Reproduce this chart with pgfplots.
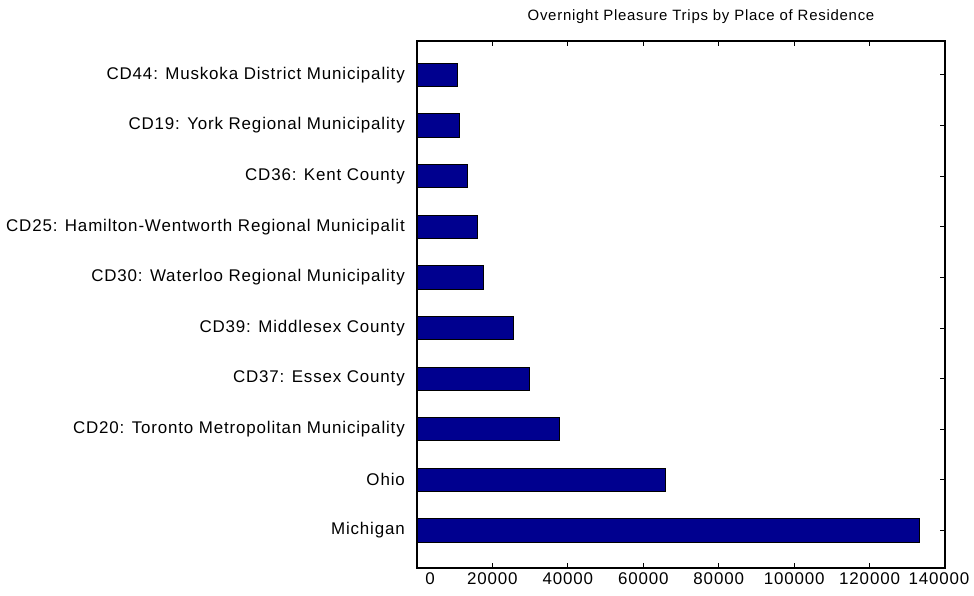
\documentclass[border=0pt]{standalone}
\usepackage{pgfplots}
\pgfplotsset{compat=1.18}
\usepackage{fontspec}
\setmainfont{Liberation Sans}[LetterSpace=5]
\definecolor{barblue}{rgb}{0,0,0.5625}
\begin{document}
\begin{tikzpicture}[x=1bp,y=1bp]
\useasboundingbox (0,0) rectangle (974,596);
\begin{axis}[
  at={(417bp,28bp)}, anchor=south west,
  scale only axis, width=528bp, height=527bp,
  xmin=0, xmax=140000, ymin=0.26, ymax=10.67,
  scaled x ticks=false,
  xtick={0,20000,40000,60000,80000,100000,120000,140000},
  xticklabels={\hspace*{26bp}0, 20000, 40000, 60000, 80000, 100000, 120000, 140000\hspace*{12bp}},
  xticklabel style={inner sep=0pt, yshift=-4bp},
  ytick={1,2,3,4,5,6,7,8,9,10},
  yticklabels={Michigan, Ohio, CD20: Toronto Metropolitan Municipality, CD37: Essex County, CD39: Middlesex County, CD30: Waterloo Regional Municipality, CD25: Hamilton-Wentworth Regional Municipalit, CD36: Kent County, CD19: York Regional Municipality, CD44: Muskoka District Municipality},
  yticklabel style={inner sep=0pt, xshift=-12bp},
  tick align=inside,
  tick pos=both,
  xticklabel pos=left, yticklabel pos=left,
  major tick length=5bp,
  tick style={black, line width=1bp},
  axis line style={black, line width=1.2bp},
  ticklabel style={font=\fontsize{17}{20}\selectfont},
  /pgf/number format/assume math mode=true,
]
\addplot[xbar, bar width=0.46, fill=barblue, draw=black, line width=1bp] coordinates {
  (133200,1) (65900,2) (37700,3) (29700,4) (25500,5) (17600,6) (16000,7) (13300,8) (11200,9) (10700,10)
};
\end{axis}
\node[font=\fontsize{15}{18}\selectfont] at (701,579) {Overnight Pleasure Trips by Place of Residence};
\end{tikzpicture}
\end{document}
